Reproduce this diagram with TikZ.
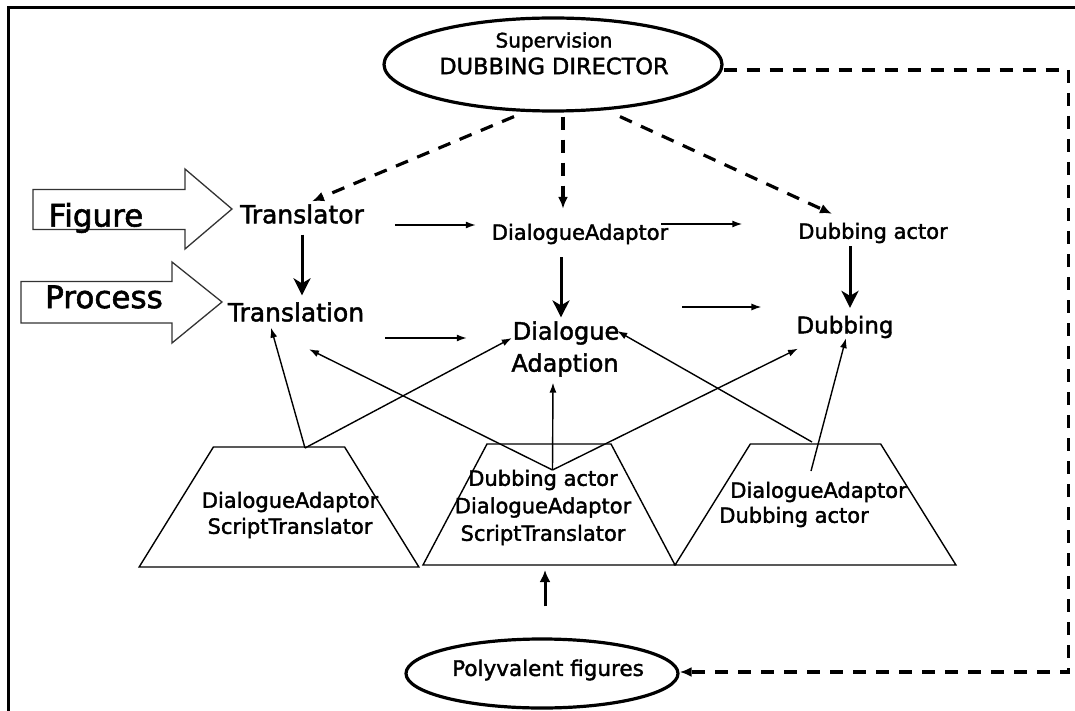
\documentclass[tikz,border=0pt]{standalone}
\usepackage{fontspec}
\setmainfont{DejaVu Sans}[FakeBold=1.8]
\usetikzlibrary{arrows.meta,calc,shapes.geometric}
\begin{document}
\begin{tikzpicture}[x=1pt,y=-1pt,
  lbl/.style={inner sep=0pt,outer sep=0pt},
  thinln/.style={line width=1.4pt},
  tarrow/.style={thinln,-{Latex[length=10pt,width=7pt]}},
  bigarrow/.style={line width=3pt,-{Stealth[length=17pt,width=17pt,inset=5pt]}},
  dsh/.style={line width=3.2pt,dash pattern=on 13pt off 10pt,-{Latex[length=12pt,width=10pt]}},
  trap/.style={draw,thinln,trapezium,trapezium stretches=true,inner sep=3pt,outer sep=0pt},
  oval/.style={draw,ellipse,line width=3.2pt,inner sep=0pt},
  blockarrow/.style={draw=black!80,line width=1.3pt,fill=white}
]
\useasboundingbox (0,0) rectangle (1075,711);
% frame
\draw[line width=3pt] (8,711) -- (8,8) -- (1075,8);

% block arrows
\draw[blockarrow] (33,189.5) -- (185,189.5) -- (185,169) -- (232,209) -- (185,249) -- (185,229.5) -- (33,229.5) -- cycle;
\draw[blockarrow] (21,281.5) -- (172,281.5) -- (172,262) -- (222,302) -- (172,343) -- (172,323) -- (21,323) -- cycle;
\node[lbl,font=\fontsize{31}{36}\selectfont] (fig) at (96,218) {Figure};
\node[lbl,font=\fontsize{31}{36}\selectfont] (proc) at (104,297) {Process};

% ellipses
\node[oval,minimum width=338pt,minimum height=93pt] (sup) at (553,64.5) {};
\node[lbl,font=\fontsize{20}{24}\selectfont] (supa) at (554,42) {Supervision};
\node[lbl,font=\fontsize{22.5}{26}\selectfont] (supb) at (554,66) {DUBBING DIRECTOR};
\node[oval,minimum width=272pt,minimum height=69pt] (poly) at (542,673.5) {};
\node[lbl,font=\fontsize{21.5}{26}\selectfont] (polyt) at (548,670) {Polyvalent figures};

% main labels
\node[lbl,font=\fontsize{25}{30}\selectfont] (trl) at (302,214) {Translator};
\node[lbl,font=\fontsize{25}{30}\selectfont] (trn) at (296,312) {Translation};
\node[lbl,font=\fontsize{21}{26}\selectfont] (da) at (580,234) {DialogueAdaptor};
\node[lbl,font=\fontsize{21}{26}\selectfont] (dba) at (873,233) {Dubbing actor};
\node[lbl,font=\fontsize{24}{28}\selectfont] (dlg) at (566,333) {Dialogue};
\node[lbl,font=\fontsize{24}{28}\selectfont] (adp) at (565,365) {Adaption};
\node[lbl,font=\fontsize{23}{28}\selectfont] (dub) at (845,327) {Dubbing};

% trapezoids
\node[trap,minimum width=280pt,minimum height=120pt,trapezium left angle=60.5,trapezium right angle=60.5] (lt) at (279,507) {};
\node[trap,minimum width=252pt,minimum height=121pt,trapezium left angle=62.7,trapezium right angle=62.7] (mt) at (549,504.5) {};
\node[trap,minimum width=281pt,minimum height=121pt,trapezium left angle=60,trapezium right angle=60] (rt) at (815.5,504.5) {};
\node[lbl,align=center,font=\fontsize{21}{26}\selectfont] (ltx) at (290,515) {DialogueAdaptor\\ScriptTranslator};
\node[lbl,align=center,font=\fontsize{21}{27.5}\selectfont] (mtx) at (543,507.5) {Dubbing actor\\DialogueAdaptor\\ScriptTranslator};
\node[lbl,align=left,font=\fontsize{21}{25}\selectfont] (rtx) at (813,504.5) {\hspace*{11pt}DialogueAdaptor\\Dubbing actor};

% dashed supervision arrows
\draw[dsh] ($(sup.south)+(-39,4)$) -- ($(trl.north)+(10,-3)$);
\draw[dsh] ($(sup.south)+(10,4)$) -- ($(da.north)+(-17,-15)$);
\draw[dsh] ($(sup.south)+(67,4)$) -- ($(dba.north)+(-41,-9)$);
\draw[dsh] ($(sup.east)+(0,5.5)$) -- ++(345,0) |- ($(poly.east)+(0,-1.5)$);

% horizontal arrows
\draw[tarrow] ($(trl.east)+(31,11)$) -- ($(da.west)+(-16,-9)$);
\draw[tarrow] ($(da.east)+(-7,-10)$) -- ($(dba.west)+(-56,-9)$);
\draw[tarrow] ($(trn.east)+(21,26)$) -- ($(dlg.west)+(-46,5)$);
\draw[tarrow] ($(dlg.east)+(63,-26)$) -- ($(dub.west)+(-35,-20)$);

% vertical thick arrows
\draw[bigarrow] ($(trl.south)+(0,11)$) -- ($(trn.north)+(6,-7)$);
\draw[bigarrow] ($(da.south)+(-19,13)$) -- ($(dlg.north)+(-5,-4)$);
\draw[bigarrow] ($(dba.south)+(-23,3)$) -- ($(dub.north)+(5,-8)$);

% arrows from trapezoids
\draw[tarrow] ($(lt.top side)+(26,1)$) -- ($(trn.south)+(-25,6)$);
\draw[tarrow] ($(lt.top side)+(26,1)$) -- ($(dlg.west)+(-1,5)$);
\draw[tarrow] ($(mt.top side)+(3.5,26)$) -- ($(trn.south)+(13,27.5)$);
\draw[tarrow] ($(mt.top side)+(3.5,26)$) -- ($(adp.south)+(-12,6)$);
\draw[tarrow] ($(mt.top side)+(3.5,26)$) -- ($(dub.south west)+(1.5,10.5)$);
\draw[tarrow] ($(rt.top side)+(-3.5,-2)$) -- ($(dlg.east)+(-2,-2)$);
\draw[tarrow] ($(rt.top side)+(-4.5,27)$) -- ($(dub.south)+(1,0)$);

% polyvalent to middle trapezoid
\draw[line width=3pt,-{Latex[length=12pt,width=11pt]}] ($(poly.north)+(3,-31)$) -- ($(mt.bottom side)+(-4,5)$);
\end{tikzpicture}
\end{document}
